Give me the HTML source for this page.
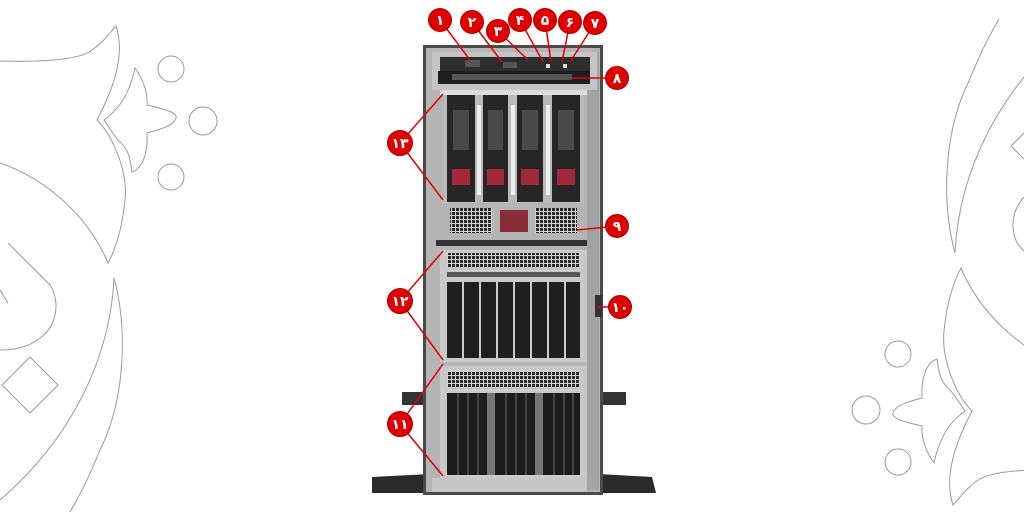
<!DOCTYPE html>
<html><head><meta charset="utf-8"><style>
html,body{margin:0;padding:0;background:#fff;}
svg{display:block}
text{font-family:"Liberation Sans","DejaVu Sans",sans-serif;font-weight:bold;fill:#fff;font-size:14px;text-anchor:middle}
</style></head><body>
<svg width="1024" height="512" viewBox="0 0 1024 512" xmlns="http://www.w3.org/2000/svg">
<defs>
<pattern id="vent" width="4" height="4" patternUnits="userSpaceOnUse">
<rect width="4" height="4" fill="#d0d0d0"/><rect width="3" height="3" fill="#2a2a2a"/>
</pattern>
<g id="deco" fill="none" stroke="#9a9a9a" stroke-width="1">
  <path d="M0,61 C40,62 80,60 92,50 C104,42 110,32 116,26 C124,50 118,80 97,120 C112,135 128,170 125,200 C122,230 115,250 108,263 C90,220 50,180 0,163"/>
  <path d="M135,68 C142,78 148,90 147,105 C160,108 178,112 176,118 C174,126 158,130 147,133 C148,150 144,168 132,172 C130,160 130,150 118,140 C112,132 108,126 104,120 C115,112 128,100 135,68 Z"/>
  <circle cx="171" cy="69" r="13"/>
  <circle cx="203" cy="121" r="14"/>
  <circle cx="171" cy="177" r="13"/>
  <path d="M114,278 C128,330 125,400 100,450 C90,475 80,495 70,512"/>
  <path d="M114,278 C110,360 70,440 0,500"/>
  <path d="M8,243 L50,285 C60,300 58,325 40,338 C28,348 12,350 0,350"/>
  <path d="M30,357 L58,385 L30,413 L2,385 Z"/>
  <path d="M0,290 L8,303"/>
</g>
</defs>
<use href="#deco"/>
<use href="#deco" transform="translate(1069,531) scale(-1,-1)"/>

<path d="M372,477 L430,474 L430,493 L372,493 Z" fill="#2a2a2a"/>
<path d="M598,474 L652,477 L656,493 L598,493 Z" fill="#2a2a2a"/>
<rect x="402" y="392" width="28" height="13" fill="#333"/>
<rect x="598" y="392" width="28" height="13" fill="#333"/>
<rect x="423" y="45" width="180" height="450" fill="#4a4a4a"/>
<rect x="426" y="48" width="174" height="444" fill="#b5b5b5"/>
<rect x="587" y="52" width="12" height="438" fill="#a3a3a3"/>
<rect x="432" y="52" width="165" height="38" fill="#c4c4c4"/>
<rect x="440" y="57" width="150" height="14" fill="#2d2d2d"/>
<rect x="465" y="60" width="15" height="7" fill="#555"/>
<rect x="503" y="62" width="14" height="6" fill="#555"/>
<rect x="546" y="64" width="4" height="4" fill="#ddd"/>
<rect x="563" y="64" width="4" height="4" fill="#ddd"/>
<rect x="438" y="71" width="152" height="13" fill="#1e1e1e"/>
<rect x="452" y="74" width="120" height="6" fill="#555"/>
<rect x="440" y="90" width="147" height="5" fill="#ddd"/>
<rect x="444" y="95" width="140" height="108" fill="#bbb"/>
<g>
  <rect x="447" y="95" width="28" height="107" fill="#262626"/>
  <rect x="483" y="95" width="25" height="107" fill="#262626"/>
  <rect x="517" y="95" width="26" height="107" fill="#262626"/>
  <rect x="552" y="95" width="28" height="107" fill="#262626"/>
  <rect x="453" y="110" width="16" height="40" fill="#4a4a4a"/>
  <rect x="488" y="110" width="15" height="40" fill="#4a4a4a"/>
  <rect x="522" y="110" width="16" height="40" fill="#4a4a4a"/>
  <rect x="558" y="110" width="16" height="40" fill="#4a4a4a"/>
  <rect x="452" y="169" width="18" height="16" fill="#a3283a"/>
  <rect x="487" y="169" width="17" height="16" fill="#a3283a"/>
  <rect x="521" y="169" width="18" height="16" fill="#a3283a"/>
  <rect x="557" y="169" width="18" height="16" fill="#a3283a"/>
  <g fill="#eee"><rect x="477" y="105" width="4" height="90"/><rect x="511" y="105" width="4" height="90"/><rect x="546" y="105" width="4" height="90"/></g>
</g>
<rect x="450" y="208" width="42" height="25" fill="url(#vent)"/>
<rect x="535" y="208" width="42" height="25" fill="url(#vent)"/>
<rect x="500" y="210" width="28" height="22" fill="#8a2d38"/>
<rect x="436" y="240" width="151" height="6" fill="#333"/>
<rect x="440" y="250" width="147" height="112" fill="#c9c9c9"/>
<rect x="447" y="253" width="133" height="14" fill="url(#vent)"/>
<rect x="447" y="272" width="133" height="5" fill="#555"/>
<g fill="#1f1f1f">
<rect x="447" y="282" width="15" height="76"/><rect x="464" y="282" width="15" height="76"/><rect x="481" y="282" width="15" height="76"/><rect x="498" y="282" width="15" height="76"/>
<rect x="515" y="282" width="15" height="76"/><rect x="532" y="282" width="15" height="76"/><rect x="549" y="282" width="15" height="76"/><rect x="566" y="282" width="14" height="76"/>
</g>
<rect x="595" y="295" width="7" height="22" fill="#333"/>
<rect x="440" y="366" width="147" height="112" fill="#c9c9c9"/>
<rect x="447" y="372" width="133" height="16" fill="url(#vent)"/>
<g fill="#1c1c1c">
<rect x="447" y="393" width="40" height="82"/><rect x="495" y="393" width="40" height="82"/><rect x="543" y="393" width="37" height="82"/>
</g>
<g fill="#444"><rect x="457" y="393" width="2" height="82"/><rect x="467" y="393" width="2" height="82"/><rect x="477" y="393" width="2" height="82"/><rect x="505" y="393" width="2" height="82"/><rect x="515" y="393" width="2" height="82"/><rect x="525" y="393" width="2" height="82"/><rect x="553" y="393" width="2" height="82"/><rect x="563" y="393" width="2" height="82"/><rect x="572" y="393" width="2" height="82"/></g>
<rect x="487" y="393" width="8" height="82" fill="#777"/>
<rect x="535" y="393" width="8" height="82" fill="#777"/>
<rect x="432" y="478" width="155" height="14" fill="#c6c6c6"/>

<g stroke="#e00000" stroke-width="1.5" fill="none">
<path d="M440,20 L470,60"/><path d="M472,22 L502,62"/><path d="M498,31 L528,60"/>
<path d="M520,20 L543,62"/><path d="M545,20 L551,62"/><path d="M570,22 L562,62"/><path d="M595,23 L570,62"/>
<path d="M617,78 L572,78"/><path d="M617,226 L577,230"/><path d="M620,307 L598,307"/>
<path d="M400,143 L443,94"/><path d="M400,143 L443,200"/>
<path d="M400,301 L443,251"/><path d="M400,301 L443,360"/>
<path d="M400,424 L443,364"/><path d="M400,424 L443,476"/>
</g>
<g fill="#e00000" stroke="#a00" stroke-width="1">
<circle cx="440" cy="20" r="11.5"/><circle cx="472" cy="22" r="11.5"/><circle cx="498" cy="31" r="11.5"/>
<circle cx="520" cy="20" r="11.5"/><circle cx="545" cy="20" r="11.5"/><circle cx="570" cy="22" r="11.5"/><circle cx="595" cy="23" r="11.5"/>
<circle cx="617" cy="78" r="11.5"/><circle cx="617" cy="226" r="11.5"/><circle cx="620" cy="307" r="11.5"/>
<circle cx="400" cy="143" r="12.5"/><circle cx="400" cy="301" r="12.5"/><circle cx="400" cy="424" r="12.5"/>
</g>
<g>
<text x="440" y="25">۱</text><text x="472" y="27">۲</text><text x="498" y="36">۳</text>
<text x="520" y="25">۴</text><text x="545" y="25">۵</text><text x="570" y="27">۶</text><text x="595" y="28">۷</text>
<text x="617" y="83">۸</text><text x="617" y="231">۹</text><text x="620" y="312">۱۰</text>
<text x="400" y="148">۱۳</text><text x="400" y="306">۱۲</text><text x="400" y="429">۱۱</text>
</g>
</svg>
</body></html>
